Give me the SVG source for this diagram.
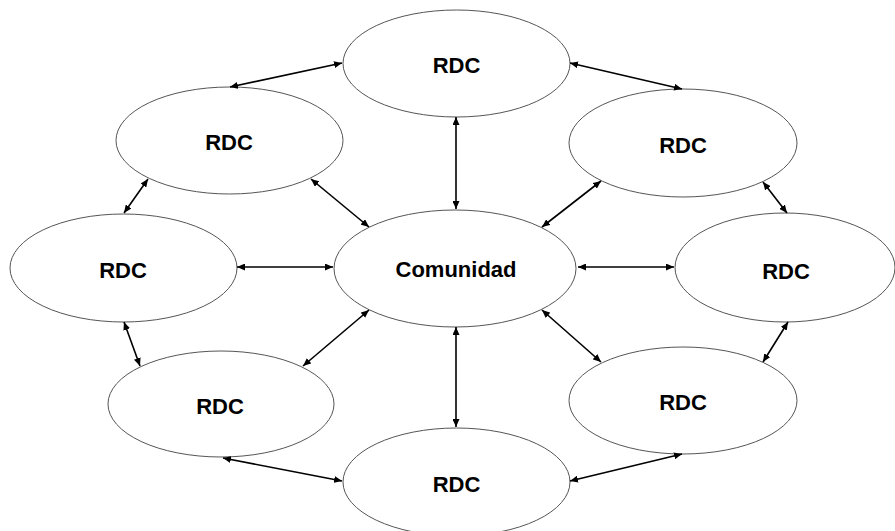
<svg xmlns="http://www.w3.org/2000/svg" width="895" height="531" viewBox="0 0 895 531">
<style>
.node ellipse{fill:#fff;stroke:#555;stroke-width:1}
.node text{font-family:"Liberation Sans",Arial,sans-serif;font-weight:bold;font-size:22px;fill:#000;text-anchor:middle}
.edges line{stroke:#000;stroke-width:1.6;marker-start:url(#ah);marker-end:url(#ah)}
</style>
<defs>
<marker id="ah" markerUnits="userSpaceOnUse" markerWidth="9" markerHeight="7" refX="8" refY="3.5" orient="auto-start-reverse">
<path d="M0,0 L8,3.5 L0,7 z" fill="#000"/>
</marker>
</defs>
<rect width="895" height="531" fill="#fff"/>
<g id="n-top" class="node"><ellipse cx="456.5" cy="63.5" rx="113.5" ry="53.5"/><text x="456.5" y="73">RDC</text></g>
<g id="n-topleft" class="node"><ellipse cx="229.5" cy="140.5" rx="113.5" ry="53.5"/><text x="229" y="150">RDC</text></g>
<g id="n-topright" class="node"><ellipse cx="683" cy="143" rx="114" ry="54"/><text x="683" y="152.5">RDC</text></g>
<g id="n-left" class="node"><ellipse cx="123.5" cy="268" rx="113.5" ry="54"/><text x="123" y="277.5">RDC</text></g>
<g id="n-center" class="node"><ellipse cx="455" cy="268.5" rx="121" ry="58.5"/><text x="456" y="277">Comunidad</text></g>
<g id="n-right" class="node"><ellipse cx="785" cy="267.5" rx="110" ry="54.5"/><text x="786" y="279">RDC</text></g>
<g id="n-bottomleft" class="node"><ellipse cx="221" cy="404" rx="113" ry="53"/><text x="220" y="413.5">RDC</text></g>
<g id="n-bottomright" class="node"><ellipse cx="683" cy="400.5" rx="114" ry="53.5"/><text x="683" y="410">RDC</text></g>
<g id="n-bottom" class="node"><ellipse cx="456.5" cy="482" rx="113.5" ry="54"/><text x="456.5" y="491.5">RDC</text></g>
<g id="edges" class="edges">
<line x1="342" y1="63" x2="230" y2="87"/>
<line x1="570" y1="63" x2="682" y2="89"/>
<line x1="456" y1="117" x2="456" y2="209"/>
<line x1="148" y1="179" x2="124" y2="213"/>
<line x1="311" y1="179" x2="369" y2="227"/>
<line x1="601" y1="181" x2="542" y2="227"/>
<line x1="763" y1="182" x2="787" y2="213"/>
<line x1="237" y1="267" x2="333" y2="267"/>
<line x1="578" y1="267" x2="674" y2="267"/>
<line x1="124" y1="322" x2="140" y2="366"/>
<line x1="369" y1="310" x2="303" y2="366"/>
<line x1="542" y1="310" x2="601" y2="362"/>
<line x1="788" y1="322" x2="763" y2="362"/>
<line x1="456" y1="327" x2="456" y2="427"/>
<line x1="223" y1="458" x2="342" y2="481"/>
<line x1="682" y1="454" x2="570" y2="481"/>
</g>
</svg>
